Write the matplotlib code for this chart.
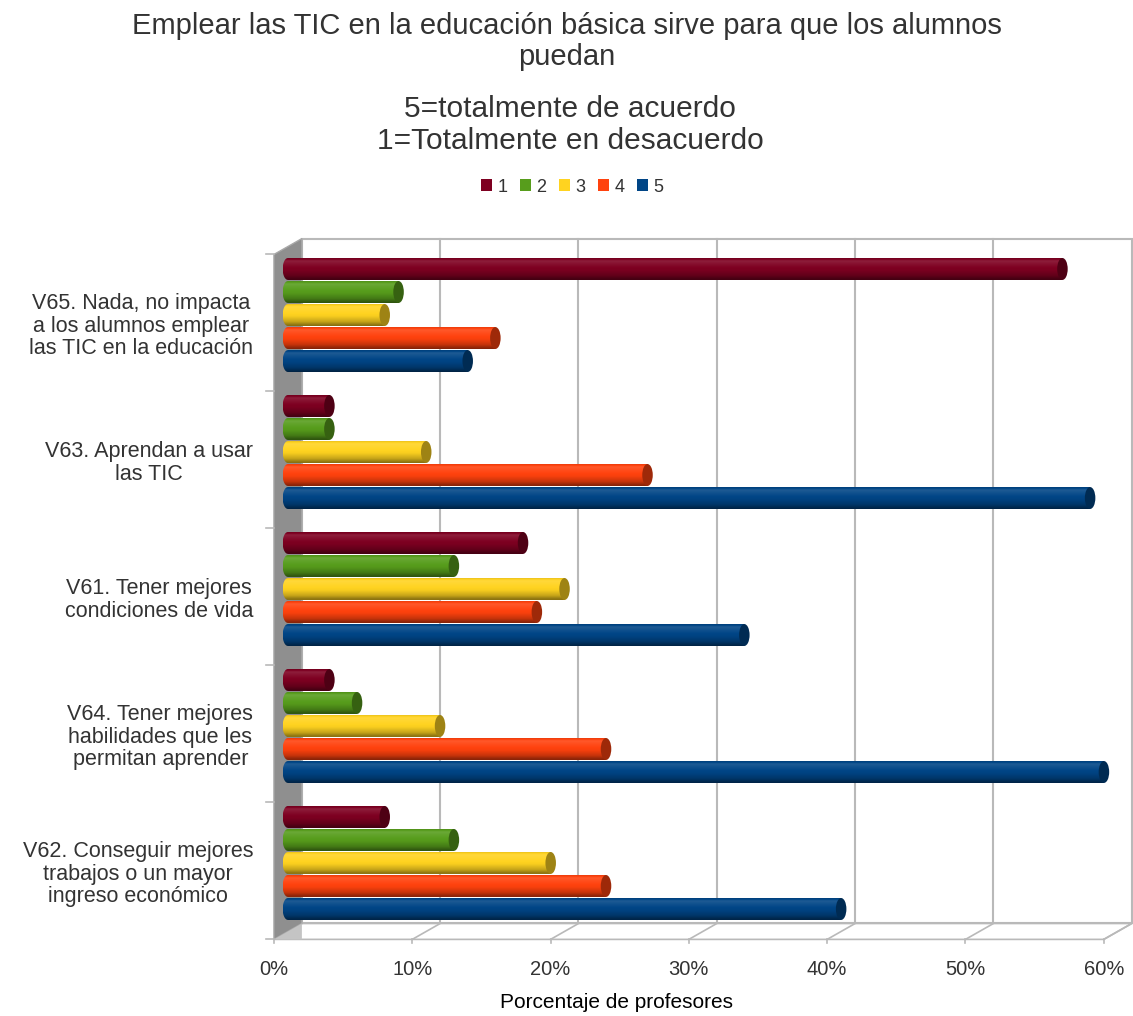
import numpy as np
import matplotlib
matplotlib.use("Agg")
import matplotlib.pyplot as plt
from matplotlib.patches import Polygon, Ellipse, Patch
from matplotlib.colors import to_rgb

plt.rcParams["font.family"] = ["Liberation Sans", "DejaVu Sans"]

# survey answers, percent of teachers per category (listed top to bottom)
categories = [
    "V65. Nada, no impacta\na los alumnos emplear\nlas TIC en la educación",
    "V63. Aprendan a usar\nlas TIC",
    "V61. Tener mejores\ncondiciones de vida",
    "V64. Tener mejores\nhabilidades que les\npermitan aprender",
    "V62. Conseguir mejores\ntrabajos o un mayor\ningreso económico",
]
series_names = ["1", "2", "3", "4", "5"]
score_1 = [56, 3, 17, 3, 7]
score_2 = [8, 3, 12, 5, 12]
score_3 = [7, 10, 20, 11, 19]
score_4 = [15, 26, 18, 23, 23]
score_5 = [13, 58, 33, 59, 40]
xticks = [0, 10, 20, 30, 40, 50, 60]
colors = ["#7e0021", "#579d1c", "#ffd320", "#ff420e", "#004586"]

TEXT = "#333333"
GRID = "#b9b9b9"

fig = plt.figure(figsize=(11.33, 10.16), dpi=100)
ax = fig.add_axes([0.2297, 0.063, 0.7715, 0.7146])
ax.set_xlim(-2.0, 61.2)
ax.set_ylim(-0.65, 4.65)
for s in ax.spines.values():
    s.set_visible(False)

# pseudo 3D box: depth offsets in data units
dx, dy = 1.01, 0.058
xmax = xticks[-1]
n = len(categories)
ylo, yhi = -0.5, n - 0.5

# back wall + grid
ax.add_patch(Polygon([(dx, ylo + dy), (xmax + dx, ylo + dy), (xmax + dx, yhi + dy), (dx, yhi + dy)],
                     closed=True, facecolor="white", edgecolor=GRID, lw=1.5, zorder=0))
for t in xticks[1:-1]:
    ax.plot([t + dx, t + dx], [ylo + dy, yhi + dy], color=GRID, lw=1.5, zorder=0.5)

# floor
ax.add_patch(Polygon([(-dx, ylo - dy), (xmax - dx, ylo - dy), (xmax + dx, ylo + dy), (dx, ylo + dy)],
                     closed=True, facecolor="white", edgecolor=GRID, lw=1.2, zorder=0.6))
for t in xticks:
    ax.plot([t + dx, t - dx], [ylo + dy, ylo - dy], color=GRID, lw=1.2, zorder=0.7)
    ax.plot([t - dx, t - dx], [ylo - dy, ylo - dy - 0.03], color=GRID, lw=1.2, zorder=0.7)

# left side wall
ax.add_patch(Polygon([(-dx, ylo - dy), (-dx, yhi - dy), (dx, yhi + dy), (dx, ylo + dy)],
                     closed=True, facecolor="#8f8f8f", edgecolor="#a8a8a8", lw=1.0, zorder=0.8))
ax.add_patch(Polygon([(-dx, ylo - dy), (dx, ylo + dy), (dx, ylo - dy)],
                     closed=True, facecolor="#c4c4c4", edgecolor="none", zorder=0.85))
for k in range(n + 1):
    yk = ylo + k - dy
    ax.plot([-dx - 0.55, -dx], [yk, yk], color=GRID, lw=1.2, zorder=0.9)

# cylinders
values = [score_1, score_2, score_3, score_4, score_5]
step, bh, cap = 0.168, 0.16, 0.38
tt = np.linspace(0, 1, 48)
shade = np.interp(tt, [0.0, 0.12, 0.3, 0.55, 0.8, 1.0], [0.92, 1.1, 1.04, 0.97, 0.78, 0.5])


def shade_rgb(rgb, f):
    rgb = np.asarray(rgb)
    if f >= 1:
        return rgb + (1 - rgb) * (f - 1) * 1.2
    return rgb * f


centers = np.arange(n)[::-1].astype(float)
for j, (vals, col) in enumerate(zip(values, colors)):
    ys = centers + (2 - j) * step
    base = to_rgb(col)
    bars = ax.barh(ys, vals, height=bh, color=col, zorder=2, label=series_names[j])
    grad = np.array([shade_rgb(base, f) for f in shade]).clip(0, 1)[:, None, :]
    for v, y in zip(vals, ys):
        ang = np.linspace(np.pi / 2, 3 * np.pi / 2, 30)
        outline = [(cap * np.cos(a), y + bh / 2 * np.sin(a)) for a in ang]
        outline += [(v, y - bh / 2), (v, y + bh / 2)]
        clip = Polygon(outline, closed=True, transform=ax.transData)
        im = ax.imshow(grad, extent=(-cap, v, y - bh / 2, y + bh / 2), origin="upper",
                       aspect="auto", interpolation="bilinear", zorder=3)
        im.set_clip_path(clip)
        ax.add_patch(Ellipse((v, y), 2 * cap, bh, facecolor=shade_rgb(base, 0.62),
                             edgecolor="none", zorder=4))

ax.set_xlim(-2.0, 61.2)
ax.set_ylim(-0.65, 4.65)

ax.set_xticks([t - dx for t in xticks], [f"{t}%" for t in xticks])
ax.set_yticks(centers - dy, categories)
ax.tick_params(axis="x", length=0, pad=6, labelsize=14.5, labelcolor=TEXT)
ax.tick_params(axis="y", length=0, pad=5, labelsize=15.5, labelcolor=TEXT)
for lbl in ax.get_yticklabels():
    lbl.set_multialignment("center")
    lbl.set_linespacing(1.09)

fig.text(0.5, 1 - 12 / 1016, "Emplear las TIC en la educación básica sirve para que los alumnos\npuedan",
         ha="center", va="top", fontsize=21, color=TEXT, linespacing=1.12)
fig.text(0.503, 1 - 95 / 1016, "5=totalmente de acuerdo\n1=Totalmente en desacuerdo",
         ha="center", va="top", fontsize=21.5, color=TEXT, linespacing=1.2)
fig.text(616 / 1133, 1 - 1003 / 1016, "Porcentaje de profesores", ha="center", va="center",
         fontsize=15, color="black")

handles = [Patch(facecolor=c, edgecolor="none") for c in colors]
fig.legend(handles, series_names, loc="center", bbox_to_anchor=(0.505, 1 - 187 / 1016), ncol=5,
           frameon=False, fontsize=13, handlelength=0.6, handleheight=0.6, handletextpad=0.3,
           columnspacing=0.7, labelcolor=TEXT)

fig.savefig("out.png", dpi=100)
